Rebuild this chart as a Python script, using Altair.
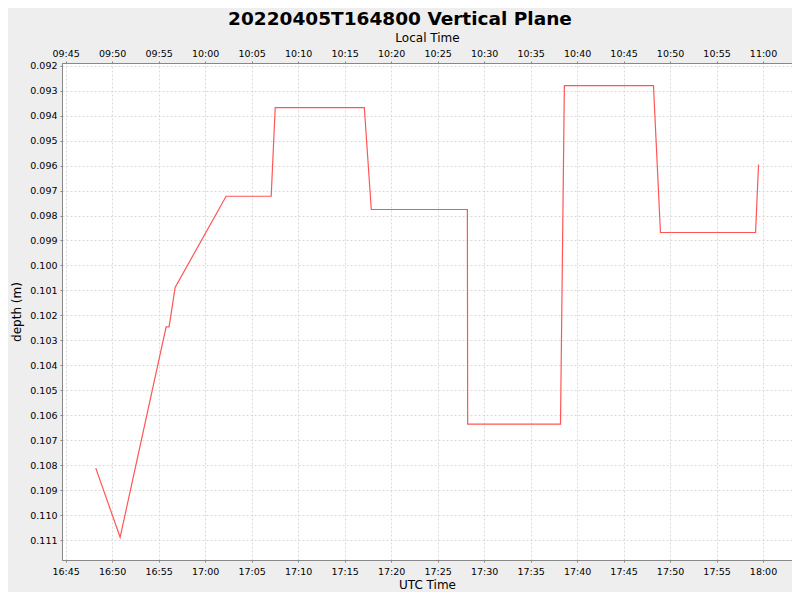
import altair as alt
import pandas as pd

# UTC timestamps (2022-04-05) and depth values
utc_times = [
    "16:48:14", "16:50:51", "16:55:48", "16:56:07", "16:56:46", "17:02:15",
    "17:07:06", "17:07:32", "17:17:07", "17:17:52", "17:28:12", "17:28:14",
    "17:38:13", "17:38:38", "17:48:13", "17:48:58", "17:59:12", "17:59:31",
]
depths = [
    0.10811, 0.11088, 0.10246, 0.10246, 0.10088, 0.09723,
    0.09723, 0.09368, 0.09368, 0.09776, 0.09776, 0.10635,
    0.10635, 0.09280, 0.09280, 0.09868, 0.09868, 0.09596,
]

utc_ticks = ["16:45", "16:50", "16:55", "17:00", "17:05", "17:10", "17:15", "17:20",
             "17:25", "17:30", "17:35", "17:40", "17:45", "17:50", "17:55", "18:00"]
depth_ticks = [0.092, 0.093, 0.094, 0.095, 0.096, 0.097, 0.098, 0.099, 0.100, 0.101,
               0.102, 0.103, 0.104, 0.105, 0.106, 0.107, 0.108, 0.109, 0.110, 0.111]
x_domain = ["16:44:36", "18:03:07"]
y_domain = [0.091896, 0.111788]
local_offset_ms = -7 * 3600 * 1000

df = pd.DataFrame({
    "time": ["2022-04-05T" + t + "Z" for t in utc_times],
    "depth": depths,
})


def dt(s):
    parts = [int(p) for p in s.split(":")]
    while len(parts) < 3:
        parts.append(0)
    return alt.DateTime(year=2022, month=4, date=5, hours=parts[0], minutes=parts[1],
                        seconds=parts[2], utc=True)


xscale = alt.Scale(domain=[dt(x_domain[0]), dt(x_domain[1])], nice=False)
yscale = alt.Scale(domain=y_domain, reverse=True, nice=False, zero=False)

FONT = "DejaVu Sans"
axis_common = dict(
    gridDash=[2, 2], gridColor="#d9d9d9", domainColor="#888888", tickColor="#888888",
    tickSize=2, labelFontSize=9.5, labelColor="#000000", labelFont=FONT,
    titleFont=FONT, titleFontSize=12, titleFontWeight="normal", titleColor="#000000",
)

bottom = alt.Chart(df).mark_line(color="#ff5555", strokeWidth=1.2).encode(
    x=alt.X("time:T", scale=xscale, title="UTC Time",
            axis=alt.Axis(orient="bottom", values=[dt(t) for t in utc_ticks],
                          labelExpr="utcFormat(datum.value, '%H:%M')",
                          labelPadding=4, titlePadding=4, **axis_common)),
    y=alt.Y("depth:Q", scale=yscale, title="depth (m)",
            axis=alt.Axis(values=depth_ticks, format=".3f", labelPadding=3,
                          titlePadding=6, **axis_common)),
)

top = alt.Chart(df).mark_line(opacity=0).encode(
    x=alt.X("time:T", scale=xscale, title="Local Time",
            axis=alt.Axis(orient="top", values=[dt(t) for t in utc_ticks],
                          labelExpr=f"utcFormat(datum.value + ({local_offset_ms}), '%H:%M')",
                          grid=False, labelPadding=3, titlePadding=4, **axis_common)),
    y=alt.Y("depth:Q", scale=yscale, axis=None),
)

chart = alt.layer(bottom, top).resolve_axis(x="independent", y="independent").properties(
    width=730, height=497,
    autosize=alt.AutoSizeParams(type="none"),
    padding={"left": 54, "top": 55, "right": 0, "bottom": 32},
    title=alt.TitleParams("20220405T164800 Vertical Plane", font=FONT, fontSize=18.5,
                          fontWeight="bold", color="#000000", anchor="middle",
                          dx=-27, dy=5, offset=8),
).configure(background="#eeeeee").configure_view(fill="#ffffff", stroke="#888888")

chart.save("out.html", embed_options={"renderer": "svg", "actions": False})
